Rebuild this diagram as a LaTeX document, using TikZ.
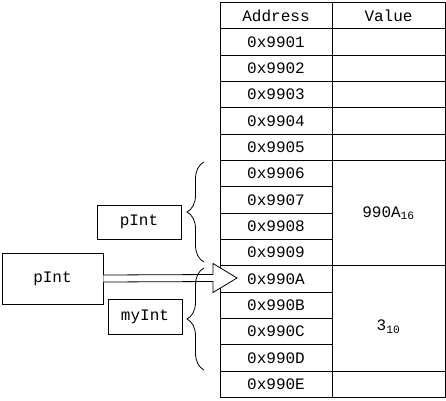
\documentclass[tikz,border=0pt]{standalone}
\usepackage{fontspec}
\newfontfamily\memfont{Liberation Mono}
\usepackage{tikz}
\usetikzlibrary{positioning,%
  calc,%
  decorations.pathreplacing
}

\tikzset{
  cell/.style={draw, line width=0.8pt, inner sep=0pt, minimum width=112pt,
    minimum height=26.33pt, font=\memfont\fontsize{16}{18}\selectfont},
  valcell/.style={cell, minimum width=113pt},
  var/.style={draw, line width=0.8pt, inner sep=0pt, font=\memfont\fontsize{16}{18}\selectfont},
  membrace/.style={decorate, decoration={brace, amplitude=17pt}, line width=0.8pt}
}

\begin{document}
\begin{tikzpicture}[x=1pt, y=-1pt]
            \useasboundingbox (0,0) rectangle (446,400);

            % memory table
            \node[cell] (head) at (276,15.67) {Address};
            \node[valcell] (vhead) at (388.5,15.67) {Value};
            \foreach \i/\a in {1/9901,2/9902,3/9903,4/9904,5/9905,6/9906,7/9907,
                8/9908,9/9909,10/990A,11/990B,12/990C,13/990D,14/990E}
              \node[cell] (a\i) at (276,{2.5+26.33*(\i+0.5)}) {0x\a};
            \foreach \i in {1,...,5,14}
              \node[valcell] (v\i) at (388.5,{2.5+26.33*(\i+0.5)}) {};
            \node[valcell, minimum height=105.32pt] (vptr) at (388.5,{2.5+26.33*8}) {990A\textsubscript{16}};
            \node[valcell, minimum height=105.32pt,
              label={[font=\memfont\fontsize{16}{18}\selectfont, yshift=-8pt]center:3\textsubscript{10}}]
              (vint) at (388.5,{2.5+26.33*12}) {};

            % variables
            \node[var, minimum width=84pt, minimum height=34pt] (pintup) at (139,222) {pInt};
            \node[var, minimum width=101pt, minimum height=51pt] (ptr) at (52.5,278.5) {pInt};
            \node[var, minimum width=74pt, minimum height=35pt] (myint) at (145,316.5) {myInt};

            \coordinate (tip) at (237,278);
            \draw[line width=0.8pt, fill=white] ($(ptr.east)+(0,-3.5)$) -- (213,274.5) -- (213,263.5)
              -- (tip) -- (213,292.5) -- (213,281.5) -- ($(ptr.east)+(0,3.5)$);

            \draw[membrace] (204,262) -- (204,162);
            \draw[membrace] (204,370) -- (204,268);
        \end{tikzpicture}
\end{document}
